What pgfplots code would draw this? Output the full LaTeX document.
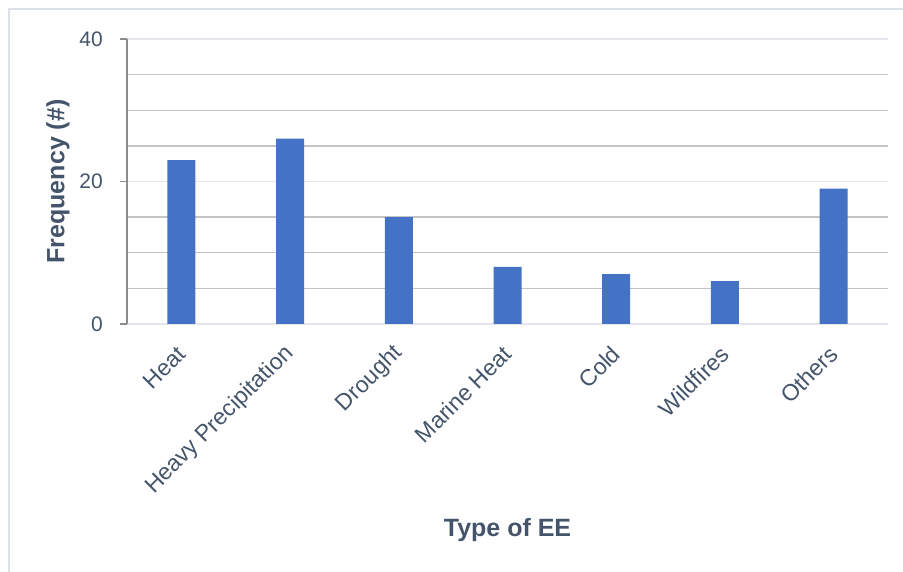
\documentclass[border=0pt]{standalone}
\usepackage{pgfplots}
\pgfplotsset{compat=1.18}
\usepackage{fontspec}
\setmainfont{Liberation Sans}
\definecolor{barblue}{HTML}{4472C4}
\definecolor{txt}{HTML}{44546A}
\definecolor{majgrid}{HTML}{E3E7ED}
\definecolor{mingrid}{HTML}{C4C4C4}
\definecolor{axgray}{HTML}{8C8C8C}
\definecolor{frame}{HTML}{DCE0E7}
\begin{document}
\begin{tikzpicture}[x=1pt,y=1pt]
\path[use as bounding box] (-127,-248) rectangle (776,324);
\draw[frame, line width=1.5pt] (-118,-248) -- (-118,315) -- (776,315);
\begin{axis}[
  at={(0,0)}, anchor=south west,
  scale only axis, width=761pt, height=285pt,
  xmin=-0.5, xmax=6.5, ymin=0, ymax=40,
  axis x line*=bottom, axis y line*=left,
  x axis line style={draw=none},
  y axis line style={draw=axgray, line width=1.3pt},
  xtick={0,1,2,3,4,5,6},
  xticklabels={Heat,Heavy Precipitation,Drought,Marine Heat,Cold,Wildfires,Others},
  x tick style={draw=none},
  ytick={0,20,40},
  minor ytick={5,10,15,25,30,35},
  ymajorgrids, yminorgrids,
  major grid style={draw=majgrid, line width=1.3pt},
  minor grid style={draw=mingrid, line width=1.3pt},
  tick align=outside,
  major tick length=7pt,
  minor tick length=0pt,
  y tick style={draw=axgray, line width=1.3pt},
  /pgf/number format/assume math mode=true,
  tick label style={font=\fontsize{21}{25}\selectfont, text=txt},
  yticklabel style={anchor=east, inner sep=0pt, xshift=-17pt},
  xticklabel style={font=\fontsize{23}{27}\selectfont, inner sep=0pt, yshift=-19pt, rotate=45, anchor=east},
  xlabel={Type of EE},
  ylabel={Frequency (\#)},
  label style={font=\fontsize{25}{30}\selectfont\bfseries, text=txt},
  xlabel style={at={(rel axis cs:0.5,-0.747)}, anchor=base},
  ylabel style={at={(rel axis cs:-0.0907,0.5)}, anchor=center},
  ybar, bar width=28pt, bar shift=0pt,
]
\addplot[fill=barblue, draw=none] coordinates {(0,23) (1,26) (2,15) (3,8) (4,7) (5,6) (6,19)};
\end{axis}
\end{tikzpicture}
\end{document}
